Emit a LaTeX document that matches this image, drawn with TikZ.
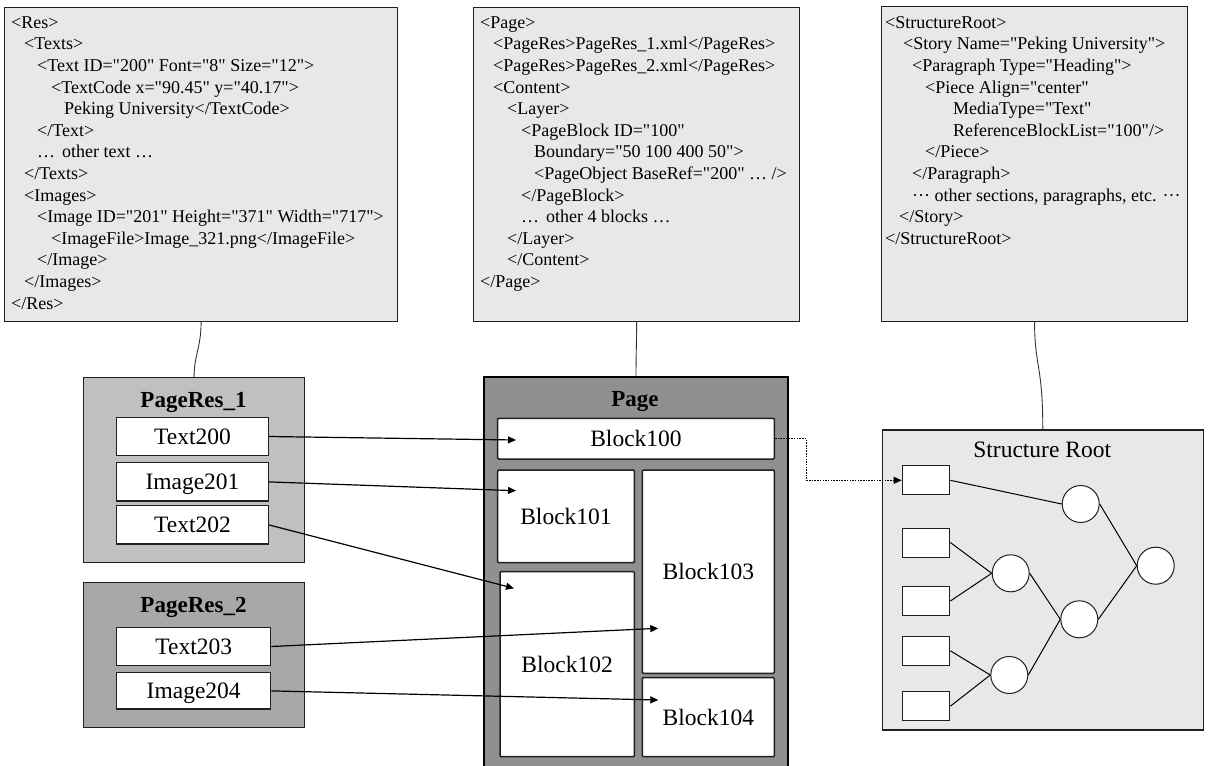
\documentclass[tikz,border=0pt]{standalone}
\usepackage{fontspec}
\setmainfont{Liberation Serif}
\newfontfamily\xmlfont{Liberation Serif}
\usetikzlibrary{arrows.meta,calc}
\definecolor{xmlfill}{HTML}{E8E8E8}
\definecolor{resA}{HTML}{C0C0C0}
\definecolor{resB}{HTML}{A8A8A8}
\definecolor{pagefill}{HTML}{909090}
\definecolor{edgec}{HTML}{202020}
\begin{document}
\begin{tikzpicture}[x=1pt,y=-1pt,
  panel/.style={draw=edgec, line width=1.2pt, anchor=north west, inner sep=0pt},
  xmlline/.style={anchor=base west, inner sep=0pt, font=\xmlfont\fontsize{18}{21.6}\selectfont},
  titletext/.style={anchor=base, inner sep=0pt, font=\fontsize{23}{27}\selectfont\bfseries},
  item/.style={draw=edgec, fill=white, line width=1.2pt, inner sep=0pt,
    font=\fontsize{23.5}{28}\selectfont, text height=16pt, text depth=0pt},
  blockbox/.style={draw=edgec, fill=white, line width=1.5pt, inner sep=0pt, rounded corners=1pt,
    font=\fontsize{23.5}{28}\selectfont, text height=16pt, text depth=0pt},
  leaf/.style={draw=edgec, fill=white, line width=1pt, inner sep=0pt,
    minimum width=47.7pt, minimum height=29pt},
  nd/.style={draw=edgec, fill=white, line width=1pt, circle, inner sep=0pt, minimum size=37pt},
  wire/.style={draw=black!80, line width=0.9pt},
  arrowline/.style={draw=black, line width=1.2pt, -{Triangle[length=8pt,width=7pt]}},
  dotline/.style={draw=black, line width=1.2pt, dash pattern=on 1.5pt off 1.2pt,
    -{Triangle[length=8pt,width=7pt]}},
  treeedge/.style={draw=black, line width=1pt}]
\clip (0,0) rectangle (1208,766);
\fill[white] (0,0) rectangle (1208,766);

% ---------- top XML panels ----------
\node[panel, fill=xmlfill, minimum width=393pt, minimum height=314pt] (resxml) at (4,7) {};
\node[panel, fill=xmlfill, minimum width=326pt, minimum height=314pt] (pagexml) at (473,7) {};
\node[panel, fill=xmlfill, minimum width=306pt, minimum height=315pt] (structxml) at (881,6) {};

% Res panel text
\node[xmlline] (rl1)  at (11,28.3)  {<Res>};
\node[xmlline] (rl2)  at (24,49.9)  {<Texts>};
\node[xmlline] (rl3)  at (37,71.5)  {<Text ID="200" Font="8" Size="12">};
\node[xmlline] (rl4)  at (51,93.1)  {<TextCode x="90.45" y="40.17">};
\node[xmlline] (rl5)  at (64,114.7) {Peking University</TextCode>};
\node[xmlline] (rl6)  at (37,136.3) {</Text>};
\node[xmlline] (rl7)  at (37,157.9) {…\hspace{7pt}other text …};
\node[xmlline] (rl8)  at (24,179.5) {</Texts>};
\node[xmlline] (rl9)  at (24,201.1) {<Images>};
\node[xmlline] (rl10) at (37,222.7) {<Image ID="201" Height="371" Width="717">};
\node[xmlline] (rl11) at (51,244.3) {<ImageFile>Image\_321.png</ImageFile>};
\node[xmlline] (rl12) at (37,265.9) {</Image>};
\node[xmlline] (rl13) at (24,287.5) {</Images>};
\node[xmlline] (rl14) at (11,309.1) {</Res>};

% Page panel text
\node[xmlline] (pl1)  at (480,28.3)  {<Page>};
\node[xmlline] (pl2)  at (493,49.9)  {<PageRes>PageRes\_1.xml</PageRes>};
\node[xmlline] (pl3)  at (493,71.5)  {<PageRes>PageRes\_2.xml</PageRes>};
\node[xmlline] (pl4)  at (493,93.1)  {<Content>};
\node[xmlline] (pl5)  at (507,114.7) {<Layer>};
\node[xmlline] (pl6)  at (521,136.3) {<PageBlock ID="100"};
\node[xmlline] (pl7)  at (534,157.9) {Boundary="50 100 400 50">};
\node[xmlline] (pl8)  at (534,179.5) {<PageObject BaseRef="200" … />};
\node[xmlline] (pl9)  at (521,201.1) {</PageBlock>};
\node[xmlline] (pl10) at (521,222.7) {…\hspace{7pt}other 4 blocks …};
\node[xmlline] (pl11) at (507,244.3) {</Layer>};
\node[xmlline] (pl12) at (507,265.9) {</Content>};
\node[xmlline] (pl13) at (480,287.5) {</Page>};

% StructureRoot panel text
\node[xmlline] (sl1)  at (885,28.3)  {<StructureRoot>};
\node[xmlline] (sl2)  at (903,49.9)  {<Story Name="Peking University">};
\node[xmlline] (sl3)  at (912,71.5)  {<Paragraph Type="Heading">};
\node[xmlline] (sl4)  at (925,93.1)  {<Piece Align="center"};
\node[xmlline] (sl5)  at (953,114.7) {MediaType="Text"};
\node[xmlline] (sl6)  at (953,136.3) {ReferenceBlockList="100"/>};
\node[xmlline] (sl7)  at (925,157.9) {</Piece>};
\node[xmlline] (sl8)  at (912,179.5) {</Paragraph>};
\node[xmlline] (sl9)  at (912,201.1) {··· other sections, paragraphs, etc. ···};
\node[xmlline] (sl10) at (899,222.7) {</Story>};
\node[xmlline] (sl11) at (885,244.3) {</StructureRoot>};

% ---------- PageRes boxes ----------
\node[panel, fill=resA, minimum width=221pt, minimum height=185pt] (pres1) at (83,377) {};
\node[panel, fill=resB, minimum width=221pt, minimum height=145pt] (pres2) at (83,582) {};
\node[titletext] (pres1t) at (193.5,407) {PageRes\_1};
\node[titletext] (pres2t) at (193.5,612) {PageRes\_2};
\node[item, minimum width=151.6pt, minimum height=38.4pt] (t200) at (192.5,436.5) {Text200};
\node[item, minimum width=151.6pt, minimum height=38.3pt] (i201) at (192.5,481.9) {Image201};
\node[item, minimum width=151.6pt, minimum height=38.3pt] (t202) at (192.5,524.9) {Text202};
\node[item, minimum width=154pt, minimum height=38.4pt] (t203) at (193.7,646.5) {Text203};
\node[item, minimum width=154pt, minimum height=36.3pt] (i204) at (193.7,690.9) {Image204};

% ---------- Page box ----------
\node[draw=black, line width=2pt, fill=pagefill, anchor=north west, inner sep=0pt,
  minimum width=304pt, minimum height=400pt] (page) at (483,376) {};
\node[titletext] (paget) at (635,406) {Page};
\node[blockbox, minimum width=276.6pt, minimum height=40.7pt] (b100) at (636,438.65) {Block100};
\node[blockbox, minimum width=136.6pt, minimum height=92.7pt] (b101) at (566,516.35) {Block101};
\node[blockbox, minimum width=134.3pt, minimum height=185pt] (b102) at (567.15,664.2) {Block102};
\node[blockbox, minimum width=132pt, minimum height=203.3pt] (b103) at (708.3,571.65) {Block103};
\node[blockbox, minimum width=132pt, minimum height=79pt] (b104) at (708.3,717.2) {Block104};

% ---------- Structure Root ----------
\node[panel, fill=xmlfill, minimum width=321pt, minimum height=300pt] (sroot) at (881.7,429.3) {};
\node[anchor=base, inner sep=0pt, font=\fontsize{23.5}{28}\selectfont] (sroott) at (1042.2,457.7) {Structure Root};
\node[leaf] (r1) at (926,480.3) {};
\node[leaf] (r2) at (926,542.5) {};
\node[leaf] (r3) at (926,601) {};
\node[leaf] (r4) at (926,650.8) {};
\node[leaf] (r5) at (926,706.2) {};
\node[nd] (c1) at (1080.7,504) {};
\node[nd] (c2) at (1010.7,573.3) {};
\node[nd] (c3) at (1009.3,675) {};
\node[nd] (c4) at (1079.3,619.3) {};
\node[nd] (c5) at (1155.7,565.7) {};
\draw[treeedge] (r1.east) -- (c1.west);
\draw[treeedge] (r2.east) -- (c2.west);
\draw[treeedge] (r3.east) -- (c2.west);
\draw[treeedge] (r4.east) -- (c3.west);
\draw[treeedge] (r5.east) -- (c3.west);
\draw[treeedge] (c2.east) -- (c4.west);
\draw[treeedge] (c3.east) -- (c4.west);
\draw[treeedge] (c1.east) -- (c5.west);
\draw[treeedge] (c4.east) -- (c5.west);

% ---------- panel connectors ----------
\draw[wire] (resxml.south) .. controls +(0,25) and +(0,-22) .. (pres1.north);
\draw[wire] (pagexml.south) .. controls +(0,20) and +(0,-20) .. (page.north);
\draw[wire] (structxml.south) .. controls +(0,45) and +(0,-65) .. (sroot.north);

% ---------- reference arrows ----------
\coordinate (a100) at (516,440);
\coordinate (a101) at (516,490.7);
\coordinate (a102) at (514,588.3);
\coordinate (a103) at (658.3,628.3);
\coordinate (a104) at (658.3,700);
\draw[arrowline] (t200.east) -- (a100);
\draw[arrowline] (i201.east) -- (a101);
\draw[arrowline] (t202.east) -- (a102);
\draw[arrowline] (t203.east) -- (a103);
\draw[arrowline] (i204.east) -- (a104);
\draw[dotline] (b100.east) -- ++(31.4,0) |- (r1.west);
\end{tikzpicture}
\end{document}
